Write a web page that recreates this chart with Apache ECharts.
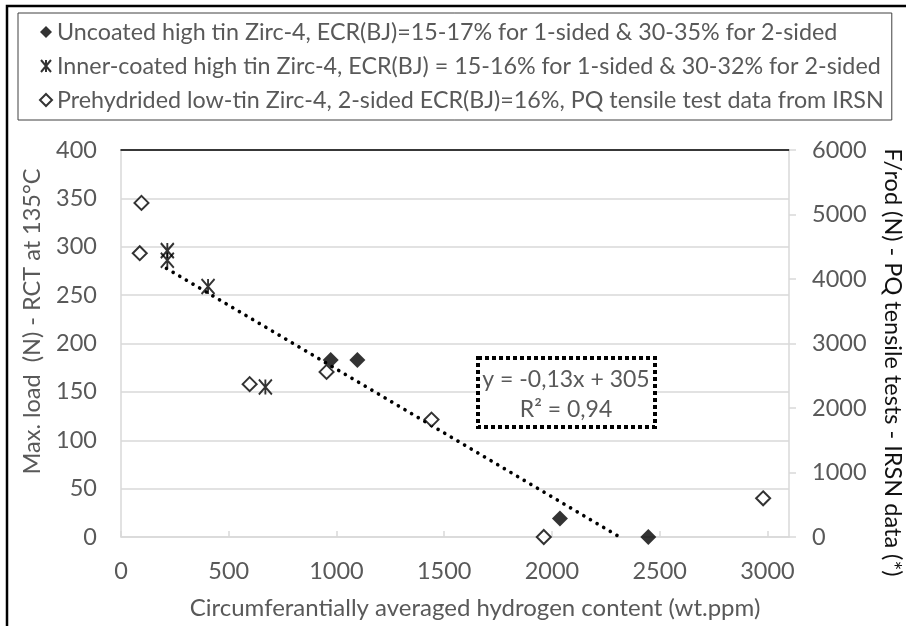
<!DOCTYPE html>
<html>
<head>
<meta charset="utf-8">
<script src="https://cdn.jsdelivr.net/npm/echarts@6/dist/echarts.min.js"></script>
<style>
html,body{margin:0;padding:0;background:#fff;}
#chart{width:906px;height:626px;}
</style>
</head>
<body>
<div id="chart"></div>
<script>
// ---- Data ----
const seriesNames = [
  'Uncoated high tin Zirc-4, ECR(BJ)=15-17% for 1-sided & 30-35% for 2-sided',
  'Inner-coated high tin Zirc-4, ECR(BJ) = 15-16% for 1-sided & 30-32% for 2-sided',
  'Prehydrided low-tin Zirc-4, 2-sided ECR(BJ)=16%, PQ tensile test data from IRSN'
];
// [hydrogen content wt.ppm, max load N (RCT)]
const uncoatedData = [[973, 183], [1097, 183], [2037, 19], [2447, 0]];
// [hydrogen content wt.ppm, max load N (RCT)]
const innerCoatedData = [[215, 296], [215, 286], [404, 259], [670, 155]];
// [hydrogen content wt.ppm, F/rod N (PQ tensile, right axis)]
const prehydridedData = [[87, 4400], [95, 5180], [597, 2370], [954, 2560], [1441, 1820], [1962, 0], [2980, 600]];
// trendline fitted on RCT data
const trendSlope = -0.132;
const trendIntercept = 305.5;
const trendStartX = 211;
const trendLabel = ['y = -0,13x + 305', 'R² = 0,94'];
// axes
const xTitle = 'Circumferantially averaged hydrogen content (wt.ppm)';
const yLeftTitle = 'Max. load  (N) - RCT at 135°C';
const yRightTitle = 'F/rod (N) - PQ tensile tests - IRSN data (*)';

const trendEndX = -trendIntercept / trendSlope;
const trendData = [trendStartX, trendEndX].map(x => [x, trendSlope * x + trendIntercept]);

const FONT = 'Lato';
const GRAY = '#595959';
const LINE = '#d9d9d9';
const plain = v => String(v);

const chart = echarts.init(document.getElementById('chart'), null, {renderer: 'canvas'});
const starPath = 'path://M0,0L10,12M10,0L0,12M5,0L5,12';

chart.setOption({
  animation: false,
  textStyle: {fontFamily: FONT},
  grid: {left: 121, right: 117, top: 150, bottom: 89, containLabel: false, outerBoundsMode: 'none'},
  legend: {
    orient: 'vertical',
    left: 18, top: 13,
    padding: [7, 8, 8, 21],
    itemGap: 10,
    itemWidth: 12, itemHeight: 12,
    borderColor: '#404040', borderWidth: 1,
    textStyle: {fontFamily: FONT, fontSize: 23.3, lineHeight: 24, color: GRAY},
    data: seriesNames
  },
  xAxis: [{
    type: 'value', min: 0, max: 3100, interval: 500,
    name: xTitle, nameLocation: 'middle', nameGap: 59,
    nameTextStyle: {fontFamily: FONT, fontSize: 24, color: GRAY, padding: [0, 0, 0, 40]},
    axisLine: {show: true, onZero: false, lineStyle: {color: LINE, width: 1.5}},
    axisTick: {show: true, inside: true, length: 6, lineStyle: {color: LINE, width: 1.5}},
    axisLabel: {fontFamily: FONT, fontSize: 23.5, color: GRAY, margin: 22, showMaxLabel: false, formatter: plain},
    splitLine: {show: false}
  }, {
    type: 'value', position: 'top', min: 0, max: 3100,
    axisLine: {show: true, onZero: false, lineStyle: {color: '#000', width: 1.5}},
    axisTick: {show: false}, axisLabel: {show: false}, splitLine: {show: false}
  }],
  yAxis: [{
    type: 'value', min: 0, max: 400, interval: 50, position: 'left',
    name: yLeftTitle, nameLocation: 'middle', nameGap: 77, nameRotate: 90,
    nameTextStyle: {fontFamily: FONT, fontSize: 23.5, color: GRAY, padding: [0, 0, 0, 44]},
    axisLine: {show: true, onZero: false, lineStyle: {color: LINE, width: 1.5}},
    axisTick: {show: false},
    axisLabel: {fontFamily: FONT, fontSize: 23.5, color: GRAY, margin: 24, formatter: plain},
    splitLine: {show: true, lineStyle: {color: LINE, width: 1.5}}
  }, {
    type: 'value', min: 0, max: 6000, interval: 1000, position: 'right',
    name: yRightTitle, nameLocation: 'middle', nameGap: 92, nameRotate: -90,
    nameTextStyle: {fontFamily: FONT, fontSize: 23.5, color: '#111', padding: [0, 0, 0, 38]},
    axisLine: {show: true, onZero: false, lineStyle: {color: LINE, width: 1.5}},
    axisTick: {show: true, inside: false, length: 7, lineStyle: {color: LINE, width: 1.5}},
    axisLabel: {fontFamily: FONT, fontSize: 23.5, color: GRAY, margin: 23, formatter: plain},
    splitLine: {show: false}
  }],
  series: [{
    name: 'trend', type: 'line', xAxisIndex: 0, yAxisIndex: 0,
    data: trendData, symbol: 'none', silent: true, z: 1,
    lineStyle: {color: '#000', width: 3.6, type: [0.1, 7.6], cap: 'round'}
  }, {
    name: seriesNames[0], type: 'scatter', xAxisIndex: 0, yAxisIndex: 0,
    data: uncoatedData, symbol: 'diamond', symbolSize: 16, clip: false, z: 3,
    itemStyle: {color: '#000', borderColor: '#000', borderWidth: 0}
  }, {
    name: seriesNames[1], type: 'scatter', xAxisIndex: 0, yAxisIndex: 0,
    data: innerCoatedData, symbol: starPath, symbolSize: [13, 15], clip: false, z: 3,
    itemStyle: {color: 'rgba(0,0,0,0)', borderColor: '#000', borderWidth: 2}
  }, {
    name: seriesNames[2], type: 'scatter', xAxisIndex: 0, yAxisIndex: 1,
    data: prehydridedData, symbol: 'diamond', symbolSize: 14, clip: false, z: 4,
    itemStyle: {color: '#fff', borderColor: '#000', borderWidth: 2}
  }],
  graphic: [{
    type: 'polyline', silent: true,
    shape: {points: [[7, 626], [7, 6], [906, 6]]},
    style: {stroke: '#000', lineWidth: 2.5, fill: null}
  }, {
    type: 'rect', silent: true,
    shape: {x: 478, y: 358, width: 177, height: 69},
    style: {fill: '#fff', stroke: '#000', lineWidth: 4, lineDash: [4, 3]},
    z: 10
  }, {
    type: 'text', silent: true, z: 11,
    style: {x: 566, y: 380, text: trendLabel[0], align: 'center', verticalAlign: 'middle',
            font: '23px ' + FONT, fill: GRAY}
  }, {
    type: 'text', silent: true, z: 11,
    style: {x: 566, y: 410, text: trendLabel[1], align: 'center', verticalAlign: 'middle',
            font: '23px ' + FONT, fill: GRAY}
  }]
});
</script>
</body>
</html>
